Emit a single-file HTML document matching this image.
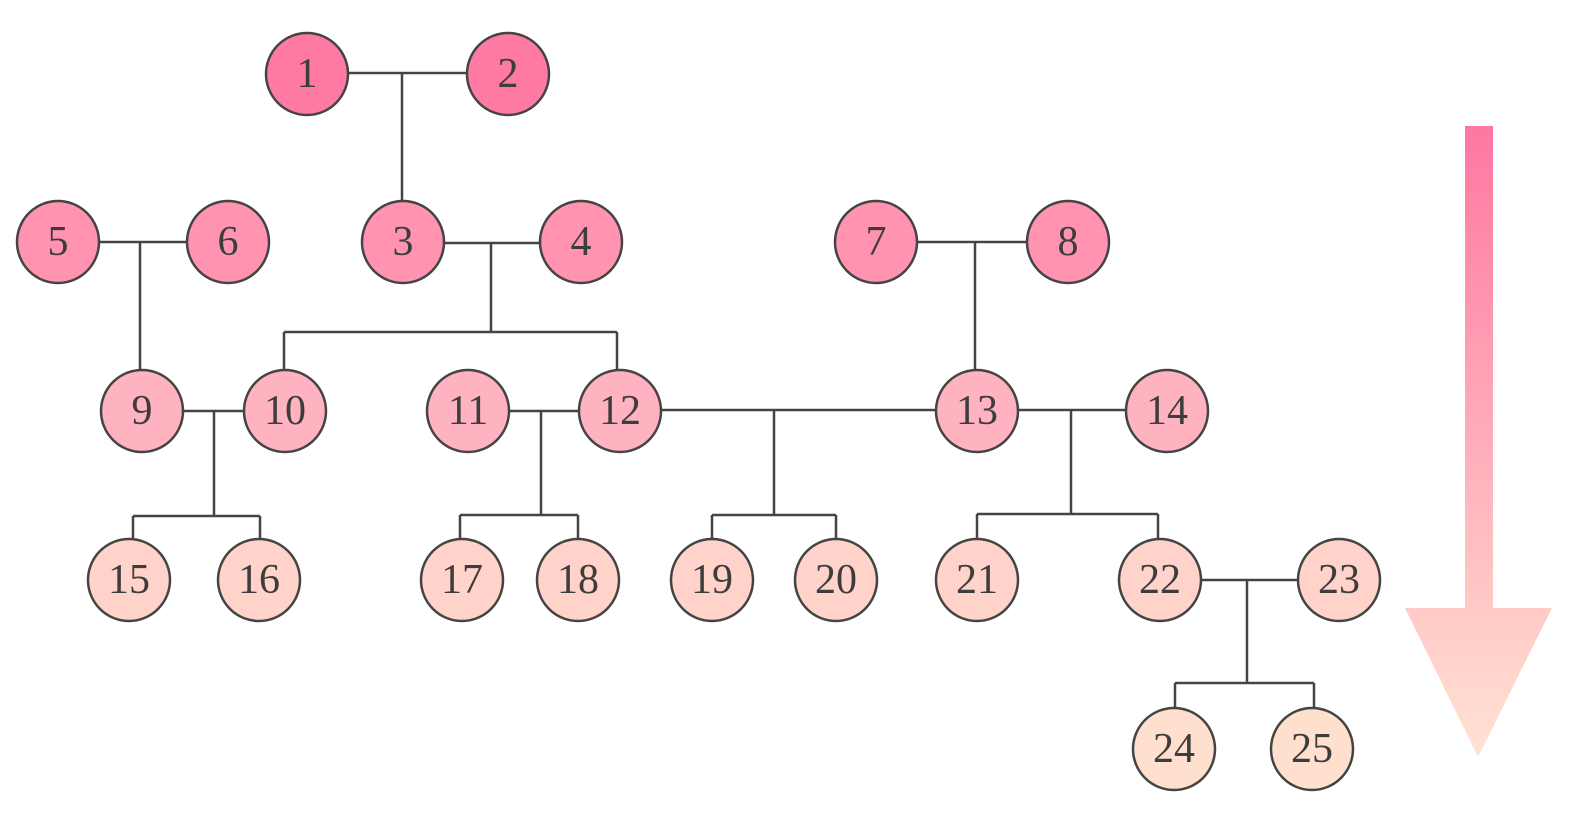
<!DOCTYPE html>
<html><head><meta charset="utf-8"><style>
html,body{margin:0;padding:0;background:#fff;width:1589px;height:825px;overflow:hidden}
text{font-family:"Liberation Serif","DejaVu Serif",serif;font-size:42px;fill:#3d3d3d;text-anchor:middle;dominant-baseline:central}
</style></head><body>
<svg width="1589" height="825" viewBox="0 0 1589 825" xmlns="http://www.w3.org/2000/svg">
<defs><linearGradient id="g" x1="0" y1="0" x2="0" y2="1">
<stop offset="0" stop-color="#ff77a1"/><stop offset="1" stop-color="#ffe3d3"/></linearGradient></defs>
<g stroke="#444" stroke-width="2.5" fill="none">
<path d="M307 73H508M402 73V201"/>
<path d="M58 242H228M140 242V370"/>
<path d="M403 243H581M491 243V332M284 332H617M284 332V370M617 332V370"/>
<path d="M876 242H1068M975 242V370"/>
<path d="M142 411H285M214 411V516M133 516H260M133 516V539M260 516V539"/>
<path d="M468 411H620M541 411V515M460 515H578M460 515V539M578 515V539"/>
<path d="M620 410H977M774 410V515M712 515H836M712 515V539M836 515V539"/>
<path d="M977 410H1167M1071 410V514M977 514H1158M977 514V539M1158 514V539"/>
<path d="M1160 580H1339M1247 580V683M1175 683H1314M1175 683V708M1314 683V708"/>
</g>
<path d="M1465 126H1493V608H1552L1478 757L1405 608H1465Z" fill="url(#g)"/>
<g stroke="#444" stroke-width="2.5">
<g fill="#ff7aa3"><circle cx="307" cy="74" r="41"/><circle cx="508" cy="74" r="41"/></g>
<g fill="#ff93b0"><circle cx="58" cy="242" r="41"/><circle cx="228" cy="242" r="41"/><circle cx="403" cy="242" r="41"/><circle cx="581" cy="242" r="41"/><circle cx="876" cy="242" r="41"/><circle cx="1068" cy="242" r="41"/></g>
<g fill="#ffb2bf"><circle cx="142" cy="411" r="41"/><circle cx="285" cy="411" r="41"/><circle cx="468" cy="411" r="41"/><circle cx="620" cy="411" r="41"/><circle cx="977" cy="411" r="41"/><circle cx="1167" cy="411" r="41"/></g>
<g fill="#ffd3c9"><circle cx="129" cy="580" r="41"/><circle cx="259" cy="580" r="41"/><circle cx="462" cy="580" r="41"/><circle cx="578" cy="580" r="41"/><circle cx="712" cy="580" r="41"/><circle cx="836" cy="580" r="41"/><circle cx="977" cy="580" r="41"/><circle cx="1160" cy="580" r="41"/><circle cx="1339" cy="580" r="41"/></g>
<g fill="#ffdfce"><circle cx="1174" cy="749" r="41"/><circle cx="1312" cy="749" r="41"/></g>
</g>
<text x="307" y="74">1</text><text x="508" y="74">2</text>
<text x="58" y="242">5</text><text x="228" y="242">6</text><text x="403" y="242">3</text><text x="581" y="242">4</text><text x="876" y="242">7</text><text x="1068" y="242">8</text>
<text x="142" y="411">9</text><text x="285" y="411">10</text><text x="468" y="411">11</text><text x="620" y="411">12</text><text x="977" y="411">13</text><text x="1167" y="411">14</text>
<text x="129" y="580">15</text><text x="259" y="580">16</text><text x="462" y="580">17</text><text x="578" y="580">18</text><text x="712" y="580">19</text><text x="836" y="580">20</text><text x="977" y="580">21</text><text x="1160" y="580">22</text><text x="1339" y="580">23</text>
<text x="1174" y="749">24</text><text x="1312" y="749">25</text>
</svg>
</body></html>
